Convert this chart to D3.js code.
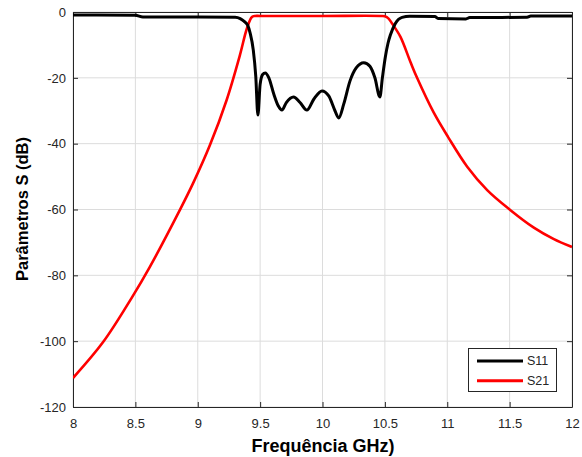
<!DOCTYPE html>
<html>
<head>
<meta charset="utf-8">
<script src="https://cdn.jsdelivr.net/npm/d3@7"></script>
<style>
  html, body { margin: 0; padding: 0; background: #fff; }
  svg { display: block; }
</style>
</head>
<body>
<svg id="chart" width="582" height="457"></svg>
<script>
const s11Freq = [8.0, 8.5, 8.56, 9.0, 9.3, 9.34, 9.37, 9.40, 9.42, 9.445, 9.465, 9.482, 9.50, 9.52, 9.541, 9.57, 9.61, 9.645, 9.675, 9.71, 9.768, 9.82, 9.875, 9.93, 9.996, 10.05, 10.10, 10.13, 10.17, 10.22, 10.27, 10.331, 10.38, 10.42, 10.46, 10.48, 10.504, 10.525, 10.544, 10.584, 10.638, 10.7, 10.9, 10.93, 11.15, 11.18, 11.64, 11.67, 12.0];
const s11Vals = [-0.9, -1.0, -1.5, -1.5, -1.6, -2.0, -2.8, -4.0, -6.4, -11.5, -19.5, -31.3, -22, -19, -18.5, -20, -25, -28.5, -29.8, -27.5, -25.8, -27.5, -29.8, -26.5, -24.0, -25.5, -30, -32.2, -28, -21, -17, -15.4, -16.5, -20, -25.8, -20, -13.6, -9.5, -7.0, -3.5, -1.65, -1.3, -1.4, -2.0, -2.1, -1.7, -1.6, -1.2, -1.2];

const s21Freq = [8.0, 8.243, 8.468, 8.615, 8.856, 8.963, 9.097, 9.231, 9.338, 9.394, 9.434, 9.46, 9.5, 10.0, 10.47, 10.5, 10.53, 10.558, 10.624, 10.705, 10.758, 10.892, 11.007, 11.16, 11.32, 11.507, 11.694, 11.855, 12.0];
const s21Vals = [-111.2, -100.2, -87, -77.5, -60.2, -52, -40.5, -26.8, -13.1, -5, -1.5, -1.2, -1.2, -1.2, -1.2, -1.3, -2.0, -3.5, -7.5, -15.2, -20, -30.6, -38, -47.0, -54.1, -60.2, -65.5, -69, -71.4];

const xTicks = [8, 8.5, 9, 9.5, 10, 10.5, 11, 11.5, 12];
const yTicks = [0, -20, -40, -60, -80, -100, -120];
const seriesNames = ["S11", "S21"];
const seriesColors = ["#000000", "#ff0000"];

const mLeft = 73, mRight = 572, mTop = 12, mBottom = 407;
const svg = d3.select("#chart");
const x = d3.scaleLinear().domain([8, 12]).range([mLeft, mRight]);
const y = d3.scaleLinear().domain([-120, 0]).range([mBottom, mTop]);

const axisColor = "#262626";
const font = "'Liberation Sans', Arial, Helvetica, sans-serif";

// grid
const grid = svg.append("g");
grid.selectAll("line.vx").data(xTicks).enter().append("line")
  .attr("x1", d => x(d)).attr("x2", d => x(d)).attr("y1", mTop).attr("y2", mBottom)
  .attr("stroke", "#dcdcdc").attr("stroke-width", 1);
grid.selectAll("line.hy").data(yTicks).enter().append("line")
  .attr("y1", d => y(d)).attr("y2", d => y(d)).attr("x1", mLeft).attr("x2", mRight)
  .attr("stroke", "#dcdcdc").attr("stroke-width", 1);

// axes (ticks inward)
const xAxis = d3.axisBottom(x).tickValues(xTicks).tickSizeInner(-5).tickSizeOuter(0).tickPadding(13).tickFormat(d3.format("~g"));
const yAxis = d3.axisLeft(y).tickValues(yTicks).tickSizeInner(-5).tickSizeOuter(0).tickPadding(7).tickFormat(d => d);
const gx = svg.append("g").attr("transform", `translate(0,${mBottom})`).call(xAxis);
const gy = svg.append("g").attr("transform", `translate(${mLeft},0)`).call(yAxis);
[gx, gy].forEach(g => {
  g.select(".domain").attr("stroke", axisColor).attr("stroke-width", 1);
  g.selectAll(".tick line").attr("stroke", axisColor);
  g.selectAll(".tick text").attr("fill", axisColor).style("font-family", font).style("font-size", "13px");
});
gx.selectAll(".tick text").attr("dy", "0.6em");
// top and right border
const gxTop = svg.append("g").attr("transform", `translate(0,${mTop})`)
  .call(d3.axisTop(x).tickValues(xTicks).tickSizeInner(-5).tickSizeOuter(0).tickFormat(""));
const gyRight = svg.append("g").attr("transform", `translate(${mRight},0)`)
  .call(d3.axisRight(y).tickValues(yTicks).tickSizeInner(-5).tickSizeOuter(0).tickFormat(""));
[gxTop, gyRight].forEach(g => {
  g.select(".domain").attr("stroke", axisColor).attr("stroke-width", 1);
  g.selectAll(".tick line").attr("stroke", axisColor);
});

// lines
svg.append("clipPath").attr("id", "clip").append("rect")
  .attr("x", mLeft).attr("y", mTop - 3).attr("width", mRight - mLeft).attr("height", mBottom - mTop + 3);
const line11 = d3.line().x(d => x(d[0])).y(d => y(d[1])).curve(d3.curveMonotoneX);
const line21 = d3.line().x(d => x(d[0])).y(d => y(d[1])).curve(d3.curveCatmullRom.alpha(0.5));
const s21 = s21Freq.map((f, i) => [f, s21Vals[i]]);
const s11 = s11Freq.map((f, i) => [f, s11Vals[i]]);
svg.append("path").datum(s21).attr("d", line21).attr("fill", "none")
  .attr("stroke", seriesColors[1]).attr("stroke-width", 2.6).attr("clip-path", "url(#clip)");
svg.append("path").datum(s11).attr("d", line11).attr("fill", "none")
  .attr("stroke", seriesColors[0]).attr("stroke-width", 3).attr("stroke-linejoin", "round").attr("clip-path", "url(#clip)");

// axis labels
svg.append("text").attr("x", 323).attr("y", 452).attr("text-anchor", "middle")
  .attr("fill", "#000").style("font-family", font).style("font-size", "18px").style("font-weight", "bold")
  .text("Frequência GHz)");
svg.append("text").attr("transform", "translate(22,209) rotate(-90)").attr("text-anchor", "middle")
  .attr("dominant-baseline", "central")
  .attr("fill", "#000").style("font-family", font).style("font-size", "16.5px").style("font-weight", "bold")
  .text("Parâmetros S (dB)");

// legend
const lg = svg.append("g");
lg.append("rect").attr("x", 468.5).attr("y", 348.5).attr("width", 88).attr("height", 43)
  .attr("fill", "#fff").attr("stroke", axisColor).attr("stroke-width", 1);
seriesNames.forEach((name, i) => {
  const ly = 361 + i * 19.7;
  lg.append("line").attr("x1", 477).attr("x2", 523).attr("y1", ly).attr("y2", ly)
    .attr("stroke", seriesColors[i]).attr("stroke-width", 3);
  lg.append("text").attr("x", 527).attr("y", ly).attr("dominant-baseline", "central")
    .attr("fill", axisColor).style("font-family", font).style("font-size", "12.5px").text(name);
});
</script>
</body>
</html>
